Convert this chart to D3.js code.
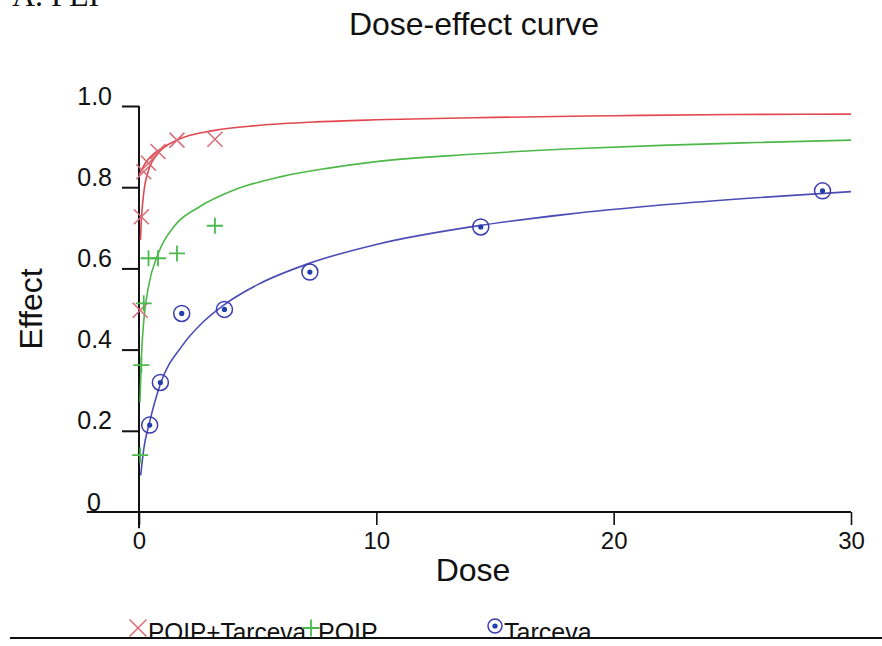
<!DOCTYPE html>
<html>
<head>
<meta charset="utf-8">
<script src="https://cdn.jsdelivr.net/npm/d3@7"></script>
<style>
  html, body { margin: 0; padding: 0; background: #fff; }
  svg { display: block; }
  text { font-family: "Liberation Sans", Arial, sans-serif; fill: #111; }
</style>
</head>
<body>
<svg id="chart" width="882" height="646"></svg>
<script>
// ---------- data ----------
const seriesNames = ["PQIP+Tarceva", "PQIP", "Tarceva"];

// observed points
const comboDose   = [0.05, 0.1, 0.2, 0.4, 0.8, 1.6, 3.2];
const comboEffect = [0.497, 0.727, 0.838, 0.859, 0.888, 0.916, 0.918];

const pqipDose   = [0.05, 0.1, 0.2, 0.4, 0.8, 1.6, 3.2];
const pqipEffect = [0.14, 0.362, 0.514, 0.625, 0.625, 0.637, 0.705];

const tarcDose   = [0.45, 0.9, 1.8, 3.6, 7.2, 14.4, 28.8];
const tarcEffect = [0.214, 0.319, 0.489, 0.499, 0.591, 0.702, 0.791];

// fitted curves
const comboCurveDose   = [0.06, 0.1, 0.2, 0.4, 0.8, 1.6, 3.2, 5, 7.5, 10, 15, 20, 25, 30];
const comboCurveEffect = [0.67, 0.72, 0.786, 0.841, 0.883, 0.916, 0.940, 0.952, 0.961, 0.966, 0.972, 0.976, 0.979, 0.980];
const comboCurve2Dose   = [0.0, 0.3, 0.7, 1.2];
const comboCurve2Effect = [0.83, 0.862, 0.886, 0.903];

const pqipCurveDose   = [0.04, 0.1, 0.2, 0.4, 0.8, 1.5, 2.5, 4, 6, 8, 10, 14, 18, 22, 26, 30];
const pqipCurveEffect = [0.27, 0.38, 0.47, 0.555, 0.635, 0.705, 0.750, 0.793, 0.826, 0.847, 0.863, 0.881, 0.894, 0.903, 0.910, 0.916];

const tarcCurveDose   = [0.07, 0.2, 0.45, 0.9, 1.8, 2.7, 3.6, 5, 7.2, 10, 14.4, 18, 22, 26, 30];
const tarcCurveEffect = [0.09, 0.155, 0.222, 0.315, 0.408, 0.468, 0.511, 0.56, 0.613, 0.659, 0.706, 0.733, 0.756, 0.774, 0.789];

const xTicks = [0, 10, 20, 30];
const yTicks = [0, 0.2, 0.4, 0.6, 0.8, 1.0];

// ---------- drawing ----------
const svg = d3.select("#chart");
const red = "#e2474f", redMark = "#d96a76";
const green = "#4cb848", greenMark = "#4cba4c";
const blue = "#4b4db5", blueMark = "#3a3cae", blueDot = "#1f3fae";

const x = d3.scaleLinear().domain([0, 30]).range([139, 851]);
const y = d3.scaleLinear().domain([0, 1]).range([512, 106]);

// partially cut-off panel label (cut off at the top edge, as in the reference)
svg.append("text").attr("x", 12).attr("y", 6)
  .style("font-family", "'Liberation Serif', 'Times New Roman', serif")
  .style("font-size", "32px").text("A. PEI");

// title
svg.append("text").attr("x", 474).attr("y", 35).attr("text-anchor", "middle")
  .style("font-size", "32px").text("Dose-effect curve");

// axes lines
svg.append("line").attr("x1", x(-2.2)).attr("x2", x(30)).attr("y1", y(0)).attr("y2", y(0))
  .attr("stroke", "#111").attr("stroke-width", 2);
svg.append("line").attr("x1", x(0)).attr("x2", x(0)).attr("y1", y(1)).attr("y2", y(-0.04))
  .attr("stroke", "#111").attr("stroke-width", 2);

const xAxis = svg.append("g").attr("transform", `translate(0,${y(0)})`)
  .call(d3.axisBottom(x).tickValues(xTicks).tickSize(13).tickFormat(d3.format("d")));
xAxis.select(".domain").remove();
xAxis.selectAll(".tick line").attr("stroke", "#111").attr("stroke-width", 1.6);
xAxis.selectAll(".tick text").attr("y", 37).attr("dy", null)
  .style("font-size", "24px").style("font-family", "'Liberation Sans', Arial, sans-serif").attr("fill", "#111");

const yAxis = svg.append("g").attr("transform", `translate(${x(0)},0)`)
  .call(d3.axisLeft(y).tickValues(yTicks).tickSize(17).tickFormat(d => d === 0 ? "0" : d3.format(".1f")(d)));
yAxis.select(".domain").remove();
yAxis.selectAll(".tick line").attr("stroke", "#111").attr("stroke-width", 2)
  .filter(d => d === 0).remove();
yAxis.selectAll(".tick text")
  .attr("x", d => d === 0 ? -38 : -27).attr("y", -2).attr("dy", null)
  .style("font-size", "25px").style("font-family", "'Liberation Sans', Arial, sans-serif").attr("fill", "#111");

// axis titles
svg.append("text").attr("x", 473).attr("y", 581).attr("text-anchor", "middle")
  .style("font-size", "32px").text("Dose");
svg.append("text").attr("transform", "translate(42,309) rotate(-90)").attr("text-anchor", "middle")
  .style("font-size", "32px").text("Effect");

// curves
const line = d3.line().x(d => x(d[0])).y(d => y(d[1])).curve(d3.curveMonotoneX);
function drawCurve(ds, es, color) {
  svg.append("path").datum(ds.map((d, i) => [d, es[i]]))
    .attr("d", line).attr("fill", "none").attr("stroke", color).attr("stroke-width", 1.6);
}
drawCurve(comboCurveDose, comboCurveEffect, red);
drawCurve(comboCurve2Dose, comboCurve2Effect, red);
drawCurve(pqipCurveDose, pqipCurveEffect, green);
drawCurve(tarcCurveDose, tarcCurveEffect, blue);

// markers
function xMark(g, cx, cy, s, color) {
  g.append("path").attr("d", `M${cx - s},${cy - s}L${cx + s},${cy + s}M${cx - s},${cy + s}L${cx + s},${cy - s}`)
    .attr("stroke", color).attr("stroke-width", 1.5).attr("fill", "none");
}
function plusMark(g, cx, cy, s, color) {
  g.append("path").attr("d", `M${cx - s},${cy}L${cx + s},${cy}M${cx},${cy - s}L${cx},${cy + s}`)
    .attr("stroke", color).attr("stroke-width", 1.8).attr("fill", "none");
}
function circMark(g, cx, cy, r, color, dot) {
  g.append("circle").attr("cx", cx).attr("cy", cy).attr("r", r)
    .attr("fill", "none").attr("stroke", color).attr("stroke-width", 1.5);
  g.append("circle").attr("cx", cx).attr("cy", cy).attr("r", 2.6).attr("fill", dot);
}
const gm = svg.append("g");
comboDose.forEach((d, i) => xMark(gm, x(d), y(comboEffect[i]), 7.5, redMark));
pqipDose.forEach((d, i) => plusMark(gm, x(d), y(pqipEffect[i]), 8, greenMark));
tarcDose.forEach((d, i) => circMark(gm, x(d), y(tarcEffect[i]), 8, blueMark, blueDot));

// legend
const lg = svg.append("g");
xMark(lg, 138, 628, 8.5, redMark);
lg.append("text").attr("x", 148).attr("y", 641).style("font-size", "25px")
  .attr("textLength", 158).attr("lengthAdjust", "spacingAndGlyphs").text(seriesNames[0]);
plusMark(lg, 311, 628, 8.5, greenMark);
lg.append("text").attr("x", 318).attr("y", 641).style("font-size", "25px").text(seriesNames[1]);
circMark(lg, 495, 626, 7, blueMark, blueDot);
lg.append("text").attr("x", 504).attr("y", 641).style("font-size", "25px").text(seriesNames[2]);
svg.append("rect").attr("x", 0).attr("y", 639).attr("width", 882).attr("height", 7).attr("fill", "#fff");
svg.append("line").attr("x1", 10).attr("x2", 882).attr("y1", 638).attr("y2", 638)
  .attr("stroke", "#111").attr("stroke-width", 2);
</script>
</body>
</html>
